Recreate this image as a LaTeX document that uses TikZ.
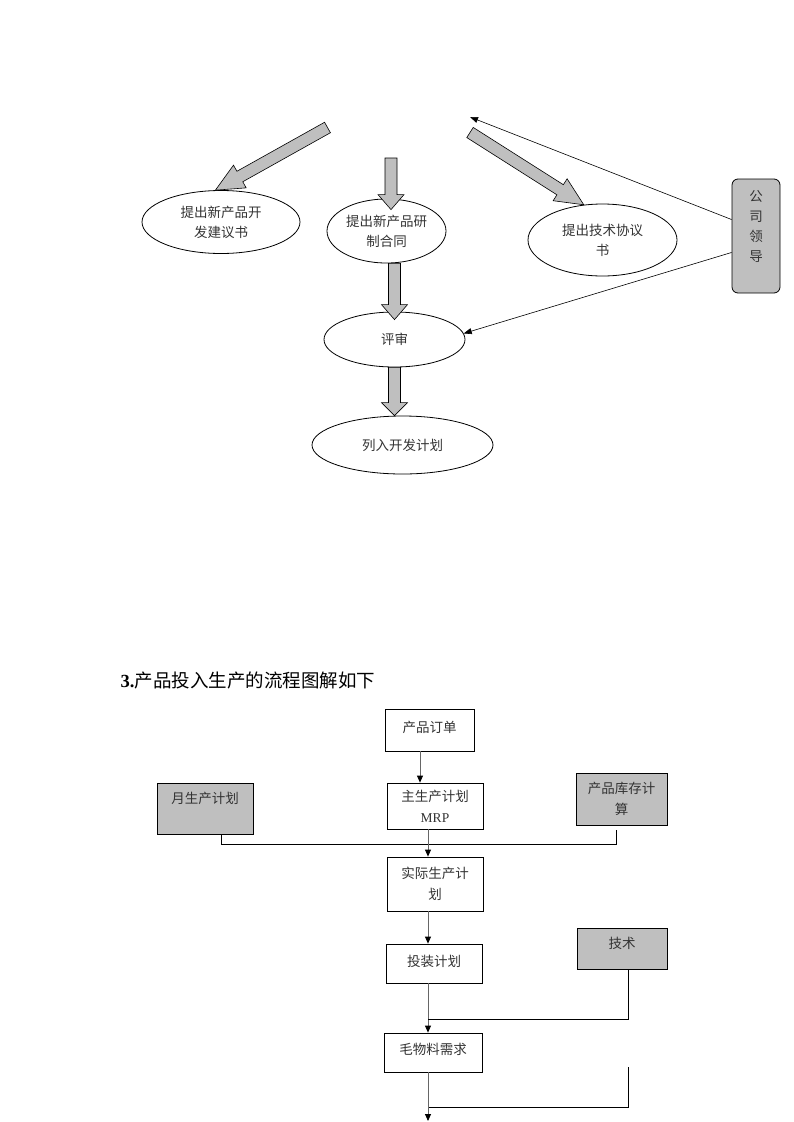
\documentclass[tikz,border=0pt]{standalone}
\usepackage{fontspec}
\setmainfont{Liberation Serif}
\newfontfamily\cjk{Noto Sans CJK SC}
\usepackage{tikz}
\usetikzlibrary{arrows.meta,shapes.geometric,calc}

\begin{document}
\begin{tikzpicture}
   [x=1pt,y=-1pt,line width=0.8pt,
    oval/.style={draw,ellipse,inner sep=0pt,align=center,text=black!80,
       font=\cjk\fontsize{13.5}{20}\selectfont},
    card/.style={draw,inner sep=0pt,align=center,text=black!80,
       font=\cjk\fontsize{13.5}{21}\selectfont},
    dark/.style={card,fill=gray!50},
    fat/.style={draw,fill=gray!50,line width=0.6pt,to path={
       ($(\tikztostart)!6pt!90:(\tikztotarget)$) --
       ($(\tikztotarget)!{veclen(#1,6)*1pt}!{-atan(6/#1)}:(\tikztostart)$) --
       ($(\tikztotarget)!{veclen(#1,13)*1pt}!{-atan(13/#1)}:(\tikztostart)$) --
       (\tikztotarget) --
       ($(\tikztotarget)!{veclen(#1,13)*1pt}!{atan(13/#1)}:(\tikztostart)$) --
       ($(\tikztotarget)!{veclen(#1,6)*1pt}!{atan(6/#1)}:(\tikztostart)$) --
       ($(\tikztostart)!6pt!-90:(\tikztotarget)$) -- cycle}},
    fat/.default=28,
    pointer/.style={line width=0.6pt,-{Triangle[length=8pt,width=6pt]}},
    feed/.style={draw=black!60,-{Triangle[length=7pt,width=6pt,color=black]}}]
   \useasboundingbox (0,0) rectangle (793,1122);

   \node[oval,minimum width=158,minimum height=63] (devA) at (221,222) {提出新产品开\\发建议书};
   \node[oval,minimum width=119,minimum height=64] (contB) at (386.5,231) {提出新产品研\\制合同};
   \node[oval,minimum width=149,minimum height=72] (techC) at (602.5,240) {提出技术协议\\书};
   \node[oval,minimum width=141,minimum height=55] (rev) at (394.5,339.5) {评审};
   \node[oval,minimum width=181,minimum height=58] (plan) at (402.5,445) {列入开发计划};
   \node[dark,rounded corners=6pt,minimum width=48,minimum height=114,
      font=\cjk\fontsize{13.5}{20}\selectfont] (lead) at (756,236) {公\\司\\领\\导\\{}};

   \coordinate (tailA) at (327.5,127.5);
   \coordinate (tailB) at (391,158);
   \coordinate (tailC) at (470,132.5);
   \coordinate (peak) at (470,117);

   \draw[fat] (tailA) to (devA.100);
   \draw[fat=15] (tailB) to ($(contB.north)+(4.5,11)$);
   \draw[fat] (tailC) to (techC.118);
   \draw[fat=15] (contB.south -| rev.north) to ($(rev.north)+(0,8)$);
   \draw[fat=13] (rev.south) to (rev.south |- plan.north);

   \draw[pointer] (lead.146) -- (peak);
   \draw[pointer] (lead.214) -- (rev.5);

   \node[anchor=west,font=\fontsize{18.5}{22}\selectfont] (title) at (117,680)
      {\textbf{3.}{\cjk 产品投入生产的流程图解如下}};

   \node[card,minimum width=89,minimum height=42] (order) at (429.5,730) {产品订单\\[-15pt]{}};
   \node[card,minimum width=96,minimum height=46] (mrp) at (435,806)
      {主生产计划\\{\rmfamily MRP}};
   \node[dark,minimum width=96,minimum height=51] (month) at (205,808.5) {月生产计划\\{}};
   \node[dark,minimum width=91,minimum height=52] (stock) at (621.5,799) {产品库存计\\算};
   \node[card,minimum width=96,minimum height=54] (actual) at (435,884) {实际生产计\\划};
   \node[card,minimum width=96,minimum height=39] (pack) at (434,963.5) {投装计划\\[-16pt]{}};
   \node[dark,minimum width=90,minimum height=41] (tech) at (622,948.5) {技术\\[-10pt]{}};
   \node[card,minimum width=98,minimum height=39] (raw) at (433,1052.5) {毛物料需求\\[-14pt]{}};

   \coordinate (spineA) at (420,0);
   \coordinate (spine) at (428,0);
   \coordinate (mergeA) at (428,1019);
   \coordinate (loose) at (628,1067);
   \coordinate (mergeB) at (428,1107);
   \coordinate (out) at (428,1121);

   \draw[feed] (order.south -| spineA) -- (mrp.north -| spineA);
   \draw ($(month.south)+(16,0)$) -- ++(0,10) -| ($(stock.south)+(-5.5,5)$);
   \draw[feed] (mrp.south -| spine) -- (actual.north -| spine);
   \draw[feed] (actual.south -| spine) -- (pack.north -| spine);
   \draw[feed] (pack.south -| spine) -- (raw.north -| spine);
   \draw ($(tech.south)+(6,0)$) |- (mergeA);
   \draw (loose) |- (mergeB);
   \draw[feed] (raw.south -| spine) -- (out);
\end{tikzpicture}
\end{document}
